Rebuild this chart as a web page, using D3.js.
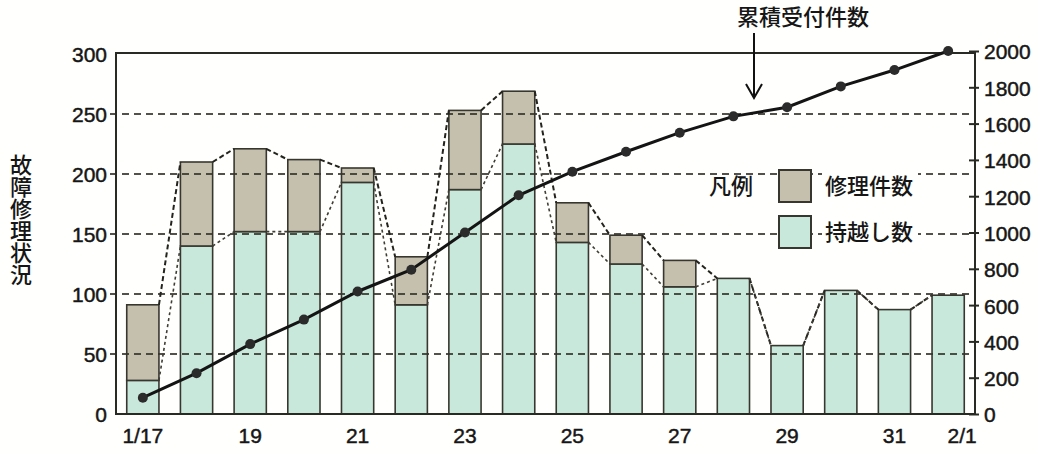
<!DOCTYPE html>
<html>
<head>
<meta charset="utf-8">
<script src="https://cdn.jsdelivr.net/npm/d3@7"></script>
<style>
  html, body { margin: 0; padding: 0; background: #fffffd; }
  svg { display: block; }
  .num { font-family: "Liberation Sans", Arial, sans-serif; fill: #161616; stroke: #161616; stroke-width: 0.45px; }
  .jp { font-family: "Noto Sans CJK JP", sans-serif; font-weight: 500; fill: #161616; }
</style>
</head>
<body>
<svg id="chart" width="1039" height="454"></svg>
<script>
// Daily fault-repair status, 1/17 – 2/1
const days = ["1/17","1/18","1/19","1/20","1/21","1/22","1/23","1/24",
              "1/25","1/26","1/27","1/28","1/29","1/30","1/31","2/1"];
// carried-over items (bottom segment)
const carryOver = [28, 140, 152, 152, 193, 91, 187, 225, 143, 125, 106, 113, 57, 103, 87, 99];
// repaired items (top segment)
const repaired  = [63, 70, 69, 60, 12, 40, 66, 44, 33, 24, 22, 0, 0, 0, 0, 0];
// cumulative received items (right axis)
const cumulative = [90, 225, 385, 520, 675, 795, 1000, 1205, 1335, 1445, 1550, 1640, 1690, 1805, 1895, 2000];

const tickDays  = ["1/17","1/19","1/21","1/23","1/25","1/27","1/29","1/31","2/1"];
const tickTexts = ["1/17","19","21","23","25","27","29","31","2/1"];
const leftTicks  = [0, 50, 100, 150, 200, 250, 300];
const rightTicks = [0, 200, 400, 600, 800, 1000, 1200, 1400, 1600, 1800, 2000];

const yTitle = "故障修理状況";
const lineLabel = "累積受付件数";
const legendTitle = "凡例";
const seriesNames = { repair: "修理件数", carry: "持越し数" };

const colors = { carry: "#c8e8dc", repair: "#c5c0ad", edge: "#38372f", grid: "#35332a" };

const rows = days.map((d, i) => ({ day: d, carry: carryOver[i], repair: repaired[i], cum: cumulative[i] }));

const plotL = 116, plotR = 975, plotT = 53, plotB = 414;
const svg = d3.select("#chart");

const x = d3.scaleBand().domain(days).range([plotL, plotR]).paddingInner(0.4).paddingOuter(0.2);
const yL = d3.scaleLinear().domain([0, 300]).range([plotB, plotT + 1]);
const yR = d3.scaleLinear().domain([0, 2000]).range([plotB, plotT - 2]);

// stacked bars
const stack = d3.stack().keys(["carry", "repair"]);
const layers = stack(rows);
svg.append("g").selectAll("g")
  .data(layers)
  .join("g")
  .attr("fill", d => colors[d.key])
  .selectAll("rect")
  .data(d => d.filter(s => s[1] - s[0] > 0))
  .join("rect")
  .attr("x", d => x(d.data.day))
  .attr("width", x.bandwidth())
  .attr("y", d => yL(d[1]))
  .attr("height", d => yL(d[0]) - yL(d[1]))
  .attr("stroke", colors.edge)
  .attr("stroke-width", 1.6);

// dashed horizontal gridlines at the left-axis ticks, over the bars
svg.append("g").selectAll("line")
  .data(leftTicks.filter(v => v > 0 && v < 300))
  .join("line")
  .attr("x1", plotL - 6).attr("x2", plotR)
  .attr("y1", d => yL(d)).attr("y2", d => yL(d))
  .attr("stroke", colors.grid).attr("stroke-width", 2)
  .attr("stroke-opacity", 0.85)
  .attr("stroke-dasharray", "7,5");

// dashed links between neighbouring bars: totals and carried-over tops
const totals = rows.map(r => r.carry + r.repair);
const linkData = [];
for (let i = 0; i < rows.length - 1; i++) {
  linkData.push({ a: rows[i].day, b: rows[i + 1].day, v0: totals[i], v1: totals[i + 1], kind: "total" });
  linkData.push({ a: rows[i].day, b: rows[i + 1].day, v0: rows[i].carry, v1: rows[i + 1].carry, kind: "carry" });
}
svg.append("g").selectAll("line")
  .data(linkData)
  .join("line")
  .attr("x1", d => x(d.a) + x.bandwidth())
  .attr("x2", d => x(d.b))
  .attr("y1", d => yL(d.v0)).attr("y2", d => yL(d.v1))
  .attr("stroke", d => d.kind === "total" ? "#24231e" : "#3f3d34")
  .attr("stroke-width", d => d.kind === "total" ? 2 : 1.6)
  .attr("stroke-dasharray", d => d.kind === "total" ? "5,3" : "3,3");

// plot frame
svg.append("rect")
  .attr("x", plotL).attr("y", plotT)
  .attr("width", plotR - plotL).attr("height", plotB - plotT)
  .attr("fill", "none").attr("stroke", "#2a2a25").attr("stroke-width", 2);

// cumulative line
const line = d3.line().x(d => x(d.day) + x.bandwidth() / 2).y(d => yR(d.cum));
svg.append("path")
  .datum(rows)
  .attr("d", line)
  .attr("fill", "none").attr("stroke", "#141414").attr("stroke-width", 3);
svg.append("g").selectAll("circle")
  .data(rows)
  .join("circle")
  .attr("cx", d => x(d.day) + x.bandwidth() / 2)
  .attr("cy", d => yR(d.cum))
  .attr("r", 5)
  .attr("fill", "#2b2b2b");

// left axis
const axL = svg.append("g")
  .attr("transform", `translate(${plotL},0)`)
  .call(d3.axisLeft(yL).tickValues(leftTicks).tickSize(0).tickPadding(9));
axL.select(".domain").remove();
axL.selectAll("text").attr("class", "num").attr("font-size", 21).attr("dy", "0.38em");

// right axis
const axR = svg.append("g")
  .attr("transform", `translate(${plotR},0)`)
  .call(d3.axisRight(yR).tickValues(rightTicks).tickFormat(d3.format("d")).tickSize(0).tickPadding(9));
axR.select(".domain").remove();
axR.selectAll("text").attr("class", "num").attr("font-size", 21).attr("dy", "0.38em");
axR.selectAll(".tick").append("line")
  .attr("x1", -6).attr("x2", 4).attr("stroke", "#2a2a25").attr("stroke-width", 2);

// bottom axis
const axB = svg.append("g")
  .attr("transform", `translate(0,${plotB})`)
  .call(d3.axisBottom(x).tickValues(tickDays)
    .tickFormat(d => tickTexts[tickDays.indexOf(d)]).tickSize(0).tickPadding(14));
axB.select(".domain").remove();
axB.selectAll("text").attr("class", "num").attr("font-size", 21).attr("dy", "0.71em")
  .attr("dx", d => d === "2/1" ? 14 : 0);

// vertical y-axis title
svg.append("text")
  .attr("class", "jp")
  .attr("x", 21).attr("y", 220)
  .attr("font-size", 22)
  .attr("text-anchor", "middle")
  .style("writing-mode", "vertical-rl")
  .text(yTitle);

// annotation for the cumulative line
svg.append("text")
  .attr("class", "jp").attr("x", 803).attr("y", 25)
  .attr("font-size", 22).attr("text-anchor", "middle")
  .text(lineLabel);
const arrowX = 754;
svg.append("line").attr("x1", arrowX).attr("x2", arrowX).attr("y1", 33).attr("y2", 98)
  .attr("stroke", "#111").attr("stroke-width", 2);
svg.append("path").attr("d", `M${arrowX - 8},84 L${arrowX},98 L${arrowX + 8},84`)
  .attr("fill", "none").attr("stroke", "#111").attr("stroke-width", 2);

// legend
const lg = svg.append("g");
lg.append("rect").attr("x", 712).attr("y", 176).attr("width", 40).attr("height", 26).attr("fill", "#fffffd");
lg.append("text").attr("class", "jp").attr("x", 731).attr("y", 194)
  .attr("font-size", 22).attr("text-anchor", "middle").text(legendTitle);
const legendItems = [
  { key: "repair", y: 170 },
  { key: "carry", y: 216 }
];
legendItems.forEach(it => {
  lg.append("rect").attr("x", 779).attr("y", it.y).attr("width", 32).attr("height", 32)
    .attr("fill", colors[it.key]).attr("stroke", colors.edge).attr("stroke-width", 2);
  lg.append("rect").attr("x", 822).attr("y", it.y + 3).attr("width", 96).attr("height", 26)
    .attr("fill", "#fffffd");
  lg.append("text").attr("class", "jp").attr("x", 825).attr("y", it.y + 24)
    .attr("font-size", 22).text(seriesNames[it.key]);
});
</script>
</body>
</html>
